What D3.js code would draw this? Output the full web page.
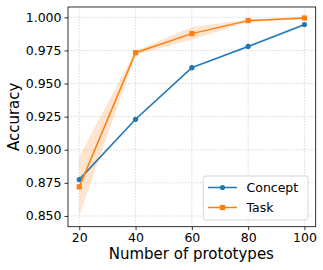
<!DOCTYPE html>
<html>
<head>
<meta charset="UTF-8">
<script src="https://cdn.jsdelivr.net/npm/d3@7"></script>
<style>
  body { margin: 0; background: #fff; }
  text { font-family: "DejaVu Sans", sans-serif; fill: #000; }
</style>
</head>
<body>
<script>
    // data
    var prototypes = [20, 40, 60, 80, 100];
    var conceptMean = [0.8775, 0.923, 0.962, 0.978, 0.9945];
    var conceptLow  = [0.876, 0.9222, 0.9612, 0.9772, 0.9932];
    var conceptHigh = [0.879, 0.9238, 0.9628, 0.9788, 0.9958];
    var taskMean = [0.872, 0.9733, 0.9877, 0.9975, 0.9995];
    var taskLow  = [0.850, 0.9718, 0.983, 0.9965, 0.9988];
    var taskHigh = [0.895, 0.9748, 0.9925, 0.9985, 1.0002];
    var yTicks = [0.850, 0.875, 0.900, 0.925, 0.950, 0.975, 1.000];
    var xTicks = [20, 40, 60, 80, 100];

    var width = 323, height = 270;
    var pLeft = 68, pRight = 315.7, pTop = 7, pBottom = 226.7;

    var svg = d3.select("body").append("svg")
        .attr("width", width)
        .attr("height", height);

    var x = d3.scaleLinear().domain([16, 104]).range([pLeft, pRight]);
    var y = d3.scaleLinear().domain([0.8419, 1.0078]).range([pBottom, pTop]);

    // grid
    var grid = svg.append("g");
    grid.selectAll(".gx").data(xTicks).enter().append("line")
        .attr("x1", function(d) { return x(d); })
        .attr("x2", function(d) { return x(d); })
        .attr("y1", pTop).attr("y2", pBottom)
        .attr("stroke", "#d0d0d0").attr("stroke-width", 0.8)
        .attr("stroke-dasharray", "1.5,1.5");
    grid.selectAll(".gy").data(yTicks).enter().append("line")
        .attr("y1", function(d) { return y(d); })
        .attr("y2", function(d) { return y(d); })
        .attr("x1", pLeft).attr("x2", pRight)
        .attr("stroke", "#d0d0d0").attr("stroke-width", 0.8)
        .attr("stroke-dasharray", "1.5,1.5");

    var area = d3.area()
        .x(function(d) { return x(d.x); })
        .y0(function(d) { return y(d.lo); })
        .y1(function(d) { return y(d.hi); });
    var line = d3.line()
        .x(function(d) { return x(d.x); })
        .y(function(d) { return y(d.m); });

    function series(mean, lo, hi) {
        return prototypes.map(function(p, i) { return { x: p, m: mean[i], lo: lo[i], hi: hi[i] }; });
    }
    var concept = series(conceptMean, conceptLow, conceptHigh);
    var task = series(taskMean, taskLow, taskHigh);

    var plot = svg.append("g");
    plot.append("path").datum(concept).attr("d", area)
        .attr("fill", "#1f77b4").attr("fill-opacity", 0.2);
    plot.append("path").datum(task).attr("d", area)
        .attr("fill", "#ff7f0e").attr("fill-opacity", 0.2);

    plot.append("path").datum(concept).attr("d", line)
        .attr("fill", "none").attr("stroke", "#1f77b4").attr("stroke-width", 1.5);
    plot.selectAll(".cm").data(concept).enter().append("circle")
        .attr("cx", function(d) { return x(d.x); })
        .attr("cy", function(d) { return y(d.m); })
        .attr("r", 2.6).attr("fill", "#1f77b4");

    plot.append("path").datum(task).attr("d", line)
        .attr("fill", "none").attr("stroke", "#ff7f0e").attr("stroke-width", 1.5);
    plot.selectAll(".tm").data(task).enter().append("rect")
        .attr("x", function(d) { return x(d.x) - 2.6; })
        .attr("y", function(d) { return y(d.m) - 2.6; })
        .attr("width", 5.2).attr("height", 5.2).attr("fill", "#ff7f0e");

    // axes
    var xAxis = svg.append("g").attr("transform", "translate(0," + pBottom + ")")
        .call(d3.axisBottom(x).tickValues(xTicks).tickSize(3.5).tickPadding(3));
    var yAxis = svg.append("g").attr("transform", "translate(" + pLeft + ",0)")
        .call(d3.axisLeft(y).tickValues(yTicks).tickFormat(d3.format(".3f")).tickSize(3.5).tickPadding(3));
    [xAxis, yAxis].forEach(function(a) {
        a.select(".domain").remove();
        a.selectAll("text").style("font-size", "12.5px").style("font-family", "DejaVu Sans");
        a.selectAll("line").attr("stroke", "#000").attr("stroke-width", 0.8);
    });

    svg.append("rect")
        .attr("x", pLeft).attr("y", pTop)
        .attr("width", pRight - pLeft).attr("height", pBottom - pTop)
        .attr("fill", "none").attr("stroke", "#000").attr("stroke-width", 0.8);

    svg.append("text")
        .attr("x", (pLeft + pRight) / 2 - 0.5).attr("y", 258.5)
        .attr("text-anchor", "middle").style("font-size", "15px")
        .text("Number of prototypes");
    svg.append("text")
        .attr("transform", "translate(18.5," + ((pTop + pBottom) / 2) + ") rotate(-90)")
        .attr("text-anchor", "middle").style("font-size", "15px")
        .text("Accuracy");

    // legend
    var lg = svg.append("g");
    lg.append("rect")
        .attr("x", 203.3).attr("y", 176).attr("width", 104.7).attr("height", 44)
        .attr("rx", 2.5).attr("fill", "#fff").attr("fill-opacity", 0.8)
        .attr("stroke", "#ccc").attr("stroke-width", 0.8);
    var items = [{ name: "Concept", color: "#1f77b4", shape: "circle" },
                 { name: "Task", color: "#ff7f0e", shape: "square" }];
    items.forEach(function(it, i) {
        var yy = 187.5 + i * 20;
        lg.append("line").attr("x1", 208).attr("x2", 237).attr("y1", yy).attr("y2", yy)
            .attr("stroke", it.color).attr("stroke-width", 1.5);
        if (it.shape === "circle") {
            lg.append("circle").attr("cx", 222.5).attr("cy", yy).attr("r", 2.6).attr("fill", it.color);
        } else {
            lg.append("rect").attr("x", 219.9).attr("y", yy - 2.6).attr("width", 5.2).attr("height", 5.2).attr("fill", it.color);
        }
        lg.append("text").attr("x", 246.5).attr("y", yy + 4.5)
            .style("font-size", "12.5px").text(it.name);
    });
</script>
</body>
</html>
